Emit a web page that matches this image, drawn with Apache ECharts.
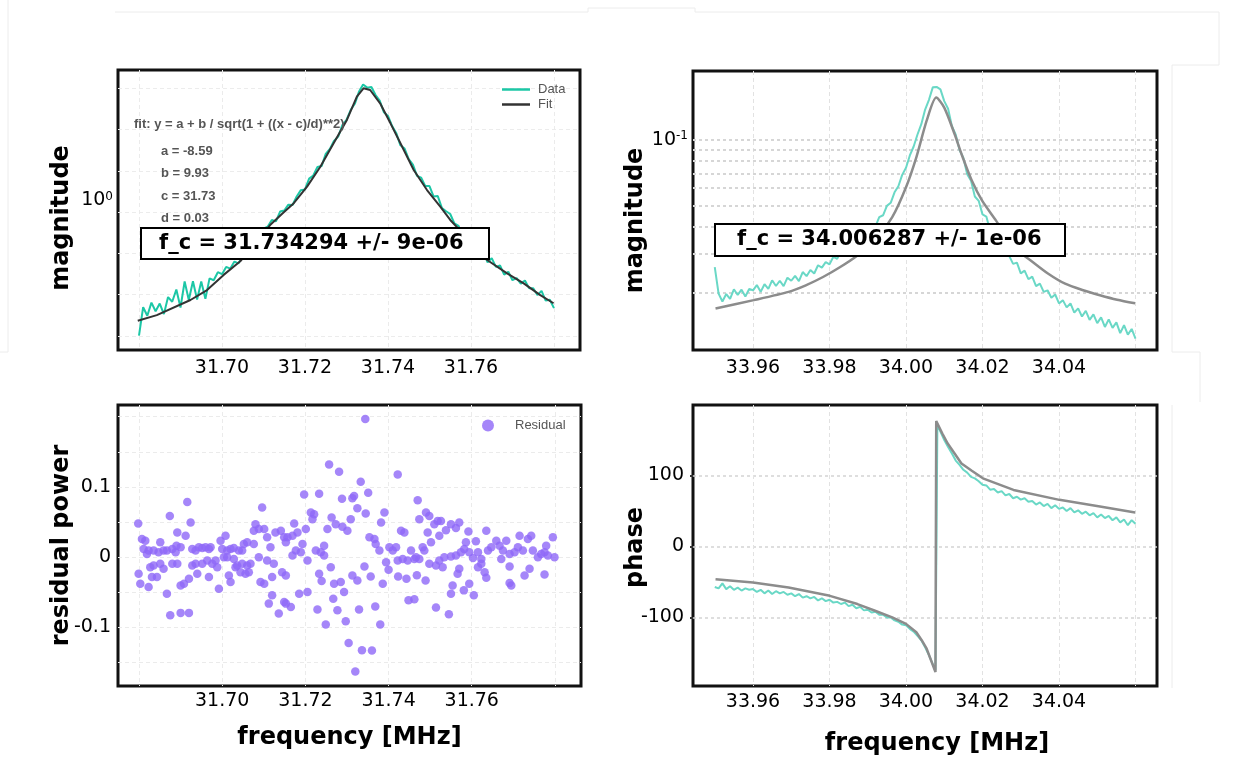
<!DOCTYPE html>
<html><head><meta charset="utf-8">
<script src="https://cdn.jsdelivr.net/npm/echarts@6/dist/echarts.min.js"></script>
<style>html,body{margin:0;padding:0;background:#fff}#c{width:1235px;height:766px}</style>
</head><body><div id="c"></div>
<script>
// ---------- tick values / labels ----------
const xTicksA = [31.68, 31.70, 31.72, 31.74, 31.76, 31.78];
const xLabelsA = [31.70, 31.72, 31.74, 31.76];
const xTicksB = [33.96, 33.98, 34.00, 34.02, 34.04, 34.06];
const xLabelsB = [33.96, 33.98, 34.00, 34.02, 34.04];
const resTicks = [-0.15, -0.1, -0.05, 0, 0.05, 0.1, 0.15, 0.2];
const resLabels = [-0.1, 0, 0.1];
const phaseTicks = [-100, 0, 100];
const magGrid2 = [0.02, 0.03, 0.04, 0.05, 0.06, 0.07, 0.08, 0.09, 0.1];

// ---------- panel 1 : magnitude around 31.73 MHz ----------
const dataFreq1 = [31.680,31.681,31.682,31.683,31.684,31.685,31.686,31.687,31.688,31.689,
31.690,31.691,31.692,31.693,31.694,31.695,31.696,31.697,31.698,31.699,
31.700,31.701,31.702,31.703,31.704,31.705,31.706,31.707,31.708,31.709,
31.710,31.711,31.712,31.713,31.714,31.715,31.716,31.717,31.718,31.719,
31.720,31.721,31.722,31.723,31.724,31.725,31.726,31.727,31.728,31.729,
31.730,31.731,31.732,31.733,31.734,31.735,31.736,31.737,31.738,31.739,
31.740,31.741,31.742,31.743,31.744,31.745,31.746,31.747,31.748,31.749,
31.750,31.751,31.752,31.753,31.754,31.755,31.756,31.757,31.758,31.759,
31.760,31.761,31.762,31.763,31.764,31.765,31.766,31.767,31.768,31.769,
31.770,31.771,31.772,31.773,31.774,31.775,31.776,31.777,31.778,31.779,31.780];
const dataMag1 = [0.410,0.494,0.467,0.509,0.481,0.506,0.472,0.528,0.512,0.555,
0.493,0.585,0.518,0.586,0.520,0.585,0.522,0.597,0.590,0.622,
0.614,0.644,0.637,0.667,0.659,0.697,0.713,0.723,0.769,0.780,
0.828,0.839,0.877,0.869,0.927,0.933,0.970,0.968,1.023,1.067,
1.072,1.151,1.175,1.242,1.250,1.355,1.400,1.476,1.518,1.637,
1.695,1.807,1.883,2.037,2.138,2.094,2.104,1.995,1.923,1.782,
1.738,1.626,1.552,1.433,1.403,1.309,1.262,1.172,1.159,1.096,
1.096,1.023,1.026,0.948,0.929,0.912,0.857,0.843,0.792,0.791,
0.762,0.719,0.718,0.710,0.664,0.682,0.644,0.650,0.612,0.624,
0.590,0.598,0.577,0.589,0.560,0.560,0.535,0.550,0.516,0.519,0.491];
const fitFreq1 = [31.6797,31.6843,31.6924,31.6964,31.7004,31.7044,31.708,31.7116,31.7145,31.7173,31.7205,31.7237,31.7269,31.7301,31.7325,31.7341,31.7357,31.7381,31.7406,31.743,31.7462,31.7494,31.7526,31.755,31.7595,31.7639,31.7687,31.7727,31.7767,31.7799];
const fitMag1 = [0.452,0.469,0.518,0.553,0.611,0.668,0.753,0.848,0.914,0.979,1.092,1.245,1.452,1.693,1.973,2.085,2.062,1.889,1.656,1.452,1.218,1.068,0.957,0.877,0.769,0.674,0.617,0.578,0.535,0.507];

// ---------- panel 2 : magnitude around 34.006 MHz ----------
const dataFreq2 = [33.950,33.951,33.952,33.953,33.954,33.955,33.956,33.957,33.958,33.959,
33.960,33.961,33.962,33.963,33.964,33.965,33.966,33.967,33.968,33.969,
33.970,33.971,33.972,33.973,33.974,33.975,33.976,33.977,33.978,33.979,
33.980,33.981,33.982,33.983,33.984,33.985,33.986,33.987,33.988,33.989,
33.990,33.991,33.992,33.993,33.994,33.995,33.996,33.997,33.998,33.999,
34.000,34.001,34.002,34.003,34.004,34.005,34.006,34.007,34.008,34.009,
34.010,34.011,34.012,34.013,34.014,34.015,34.016,34.017,34.018,34.019,
34.020,34.021,34.022,34.023,34.024,34.025,34.026,34.027,34.028,34.029,
34.030,34.031,34.032,34.033,34.034,34.035,34.036,34.037,34.038,34.039,
34.040,34.041,34.042,34.043,34.044,34.045,34.046,34.047,34.048,34.049,
34.050,34.051,34.052,34.053,34.054,34.055,34.056,34.057,34.058,34.059,34.060];
const dataMag2 = [0.02606,0.01972,0.01816,0.01963,0.01866,0.02065,0.01945,0.02056,0.01914,0.02070,
0.02042,0.02158,0.02009,0.02178,0.02075,0.02270,0.02138,0.02259,0.02133,0.02333,
0.02259,0.02377,0.02249,0.02477,0.02371,0.02529,0.02438,0.02661,0.02594,0.02748,
0.02685,0.02911,0.02844,0.03090,0.03027,0.03221,0.03162,0.03443,0.03436,0.03681,
0.03639,0.03990,0.03999,0.04416,0.04508,0.04977,0.05140,0.05741,0.06124,0.06902,
0.07447,0.08472,0.09311,0.1057,0.1178,0.1374,0.1524,0.1738,0.1746,0.1702,
0.1503,0.1387,0.1153,0.1054,0.08974,0.08260,0.06950,0.06486,0.05495,0.05248,
0.04550,0.04446,0.03828,0.03819,0.03357,0.03350,0.02938,0.02931,0.02698,0.02735,
0.02443,0.02512,0.02296,0.02360,0.02133,0.02193,0.02009,0.02042,0.01888,0.01954,
0.01778,0.01841,0.01706,0.01778,0.01614,0.01687,0.01549,0.01644,0.01496,0.01585,
0.01445,0.01535,0.01387,0.01503,0.01374,0.01455,0.01300,0.01413,0.01279,0.01358,0.01227];
const fitFreq2 = [33.9502,33.9602,33.9693,33.9738,33.9783,33.9828,33.9873,33.9919,33.9964,34.0000,34.0027,34.0054,34.0079,34.0100,34.0127,34.0145,34.0172,34.0199,34.0235,34.0281,34.0326,34.0371,34.0416,34.0461,34.0507,34.0552,34.0599];
const fitMag2 = [0.01687,0.01841,0.02009,0.02153,0.02350,0.02612,0.02951,0.03459,0.04416,0.06053,0.08299,0.1222,0.1560,0.1403,0.1062,0.0861,0.0650,0.0526,0.0427,0.0322,0.0280,0.0244,0.0219,0.0205,0.0194,0.0185,0.0178];

// ---------- panel 3 : residuals [frequency, residual power] ----------
const residualPoints = [
[31.6798,0.0477],[31.6807,0.0255],[31.6815,0.0231],[31.6811,0.0113],[31.6819,0.0042],[31.6823,0.0090],[31.6835,0.0090],[31.6851,0.0208],[31.6847,0.0066],[31.6859,0.0090],[31.6867,0.0090],[31.6874,0.0585],[31.6880,0.0113],[31.6888,0.0066],[31.6892,0.0350],[31.6890,0.0160],[31.6900,0.0137],[31.6912,0.0302],[31.6916,0.0783],[31.6924,0.0491],[31.6928,0.0113],[31.6936,0.0090],[31.6944,0.0137],[31.6952,0.0127],[31.6960,0.0137],[31.6968,0.0113],[31.6972,0.0137],[31.6996,0.0231],[31.7008,0.0302],[31.7000,0.0113],[31.7012,0.0090],[31.7020,0.0113],[31.7028,0.0127],[31.7040,0.0090],[31.7048,0.0090],[31.7052,0.0184],[31.7060,0.0208],[31.7076,0.0184],[31.7080,0.0467],[31.7076,0.0373],[31.7088,0.0397],[31.7096,0.0704],[31.7101,0.0397],[31.7108,0.0279],[31.7116,0.0137],[31.7128,0.0350],[31.7141,0.0373],[31.7149,0.0279],
[31.6799,-0.0241],[31.6803,-0.0382],[31.6823,-0.0430],[31.6827,-0.0146],[31.6835,-0.0123],[31.6831,-0.0288],[31.6843,-0.0288],[31.6851,-0.0099],[31.6859,-0.0170],[31.6867,-0.0524],[31.6880,-0.0099],[31.6892,-0.0099],[31.6900,-0.0406],[31.6908,-0.0382],[31.6920,-0.0312],[31.6928,-0.0123],[31.6936,-0.0099],[31.6940,-0.0241],[31.6952,-0.0099],[31.6964,-0.0052],[31.6968,-0.0288],[31.6976,-0.0099],[31.6984,-0.0052],[31.6988,-0.0146],[31.6992,-0.0453],[31.7004,-0.0005],[31.7012,-0.0005],[31.7016,-0.0265],[31.7020,-0.0359],[31.7028,-0.0028],[31.7032,-0.0146],[31.7036,-0.0123],[31.7044,-0.0217],[31.7048,-0.0099],[31.7056,-0.0241],[31.7060,-0.0123],[31.7064,-0.0217],[31.7068,-0.0099],[31.7088,-0.0005],[31.7092,-0.0359],[31.7101,-0.0382],[31.7108,-0.0052],[31.7112,-0.0666],[31.7120,-0.0547],[31.7124,-0.0099],[31.7120,-0.0288],[31.7136,-0.0808],[31.7144,-0.0217],[31.7149,-0.0642],
[31.6875,-0.0831],[31.6900,-0.0798],[31.6920,-0.0798],
[31.7157,0.0279],[31.7153,0.0208],[31.7169,0.0302],[31.7173,0.0477],[31.7181,0.0350],[31.7193,0.0184],[31.7177,0.0090],[31.7189,0.0066],[31.7169,0.0019],[31.7197,0.0892],[31.7205,-0.0052],[31.7201,0.0397],[31.7213,0.0633],[31.7221,0.0609],[31.7217,0.0538],[31.7225,0.0090],[31.7233,0.0902],[31.7237,0.0066],[31.7245,0.0160],[31.7245,0.0019],[31.7257,0.1317],[31.7263,0.0562],[31.7253,0.0397],[31.7273,0.0467],[31.7281,0.1214],[31.7288,0.0831],[31.7289,0.0429],[31.7301,0.0373],[31.7309,0.0538],[31.7313,0.0836],[31.7317,0.0868],[31.7325,0.0694],[31.7333,0.1072],[31.7345,0.0619],[31.7351,0.0916],[31.7344,0.1969],[31.7354,0.0279],[31.7366,0.0255],[31.7369,0.0184],[31.7382,0.0491],[31.7390,0.0633],[31.7378,0.0090],[31.7402,0.0137],[31.7410,0.0090],[31.7418,0.0137],[31.7422,0.1176],[31.7430,0.0373],[31.7438,0.0350],[31.7454,0.0090],[31.7462,-0.0028],[31.7470,0.0807],[31.7474,0.0538],[31.7482,0.0137],[31.7490,0.0633],[31.7498,0.0585],[31.7494,0.0350],[31.7510,0.0467],[31.7518,0.0514],[31.7522,0.0302],[31.7502,0.0208],[31.7486,0.0090],[31.7422,-0.0052],[31.7434,-0.0028],[31.7446,-0.0052],[31.7466,-0.0005],[31.7474,-0.0028],[31.7498,-0.0099],[31.7514,-0.0123],[31.7522,-0.0052],
[31.7153,-0.0265],[31.7153,-0.0666],[31.7165,-0.0713],[31.7185,-0.0524],[31.7205,-0.0500],[31.7229,-0.0751],[31.7233,-0.0241],[31.7239,-0.0345],[31.7249,-0.0963],[31.7261,-0.0146],[31.7267,-0.0595],[31.7269,-0.0382],[31.7277,-0.0760],[31.7285,-0.0359],[31.7293,-0.0500],[31.7297,-0.0916],[31.7304,-0.1228],[31.7313,-0.0265],[31.7325,-0.0336],[31.7329,-0.0751],[31.7336,-0.1331],[31.7342,-0.0137],[31.7320,-0.1634],[31.7357,-0.0279],[31.7360,-0.1336],[31.7368,-0.0708],[31.7380,-0.0963],[31.7386,-0.0382],[31.7394,-0.0075],[31.7400,-0.0184],[31.7423,-0.0279],[31.7443,-0.0312],[31.7448,-0.0618],[31.7462,-0.0604],[31.7468,-0.0260],[31.7489,-0.0336],[31.7514,-0.0722],
[31.7526,0.0514],[31.7538,0.0382],[31.7550,0.0467],[31.7570,0.0491],[31.7562,0.0411],[31.7592,0.0363],[31.7635,0.0373],[31.7586,0.0208],[31.7610,0.0222],[31.7534,-0.0005],[31.7550,0.0005],[31.7562,0.0019],[31.7574,0.0066],[31.7582,0.0113],[31.7594,0.0066],[31.7603,-0.0014],[31.7615,0.0066],[31.7623,-0.0028],[31.7639,0.0090],[31.7647,0.0137],[31.7659,0.0231],[31.7667,0.0160],[31.7675,0.0090],[31.7671,-0.0028],[31.7683,0.0231],[31.7691,0.0042],[31.7703,0.0066],[31.7715,0.0302],[31.7711,0.0137],[31.7723,0.0090],[31.7735,0.0255],[31.7743,0.0302],[31.7747,0.0090],[31.7759,-0.0005],[31.7767,0.0042],[31.7775,0.0066],[31.7779,0.0160],[31.7795,0.0279],[31.7799,-0.0005],[31.7783,0.0019],
[31.7530,-0.0146],[31.7554,-0.0406],[31.7550,-0.0524],[31.7570,-0.0170],[31.7566,-0.0241],[31.7581,-0.0477],[31.7594,-0.0382],[31.7605,-0.0547],[31.7615,-0.0146],[31.7631,-0.0217],[31.7635,-0.0297],[31.7623,-0.0099],[31.7691,-0.0137],[31.7691,-0.0373],[31.7695,-0.0406],[31.7727,-0.0265],[31.7739,-0.0170],[31.7775,-0.0250],[31.7545,-0.0817]
];

// ---------- panel 4 : phase around 34.006 MHz ----------
const dataFreq4 = [33.950,33.951,33.952,33.953,33.954,33.955,33.956,33.957,33.958,33.959,
33.960,33.961,33.962,33.963,33.964,33.965,33.966,33.967,33.968,33.969,
33.970,33.971,33.972,33.973,33.974,33.975,33.976,33.977,33.978,33.979,
33.980,33.981,33.982,33.983,33.984,33.985,33.986,33.987,33.988,33.989,
33.990,33.991,33.992,33.993,33.994,33.995,33.996,33.997,33.998,33.999,
34.000,34.001,34.002,34.003,34.004,34.005,34.006,34.007,
34.0077,34.0082,
34.009,34.010,34.011,34.012,34.013,34.014,34.015,34.016,34.017,34.018,34.019,
34.020,34.021,34.022,34.023,34.024,34.025,34.026,34.027,34.028,34.029,
34.030,34.031,34.032,34.033,34.034,34.035,34.036,34.037,34.038,34.039,
34.040,34.041,34.042,34.043,34.044,34.045,34.046,34.047,34.048,34.049,
34.050,34.051,34.052,34.053,34.054,34.055,34.056,34.057,34.058,34.059,34.060];
const dataPhase4 = [-57,-59,-52,-60,-56,-61,-58,-62,-59,-61,
-60,-64,-61,-66,-62,-67,-63,-66,-64,-68,
-66,-70,-67,-72,-70,-73,-71,-76,-73,-77,
-75,-79,-78,-81,-79,-84,-82,-87,-85,-90,
-89,-93,-92,-96,-96,-100,-100,-104,-106,-110,
-111,-116,-120,-126,-132,-142,-153,-166,
-174,172,
162,150,140,131,121,115,108,104,98,96,92,
87,86,80,81,76,78,72,74,68,70,
66,68,63,64,59,62,57,60,54,58,
53,55,50,54,48,51,46,49,44,47,
41,45,40,43,37,41,34,38,30,37,32];
const fitFreq4 = [33.9502,33.9600,33.9693,33.9801,33.9873,33.9919,33.9964,34.0000,34.0027,34.0041,34.0054,34.0077,34.0079,34.0095,34.0109,34.0145,34.0172,34.0201,34.0281,34.0401,34.0507,34.0599];
const fitPhase4 = [-46.2,-50.8,-57.8,-69.5,-81.1,-90.5,-99.8,-109,-120.7,-132,-144,-176.7,176.6,159,145,117,106.7,96,79.7,65.7,56.4,48];

// ---------- rendering ----------
const FONT = 'DejaVu Sans';
const pairs = (xs, ys) => xs.map((x, i) => [x, ys[i]]);
function logLabel(v) {
  const l = Math.log10(v), r = Math.round(l);
  if (Math.abs(l - r) > 1e-6) return '';
  return '{b|10}{s|' + r + '}';
}
const logRich = {
  b: { fontSize: 19, fontFamily: FONT, color: '#000' },
  s: { fontSize: 12, fontFamily: FONT, color: '#000', verticalAlign: 'top', lineHeight: 12 }
};
const lblStyle = { fontSize: 19, fontFamily: FONT, color: '#000' };
const nameStyle = { fontSize: 24, fontWeight: 'bold', fontFamily: FONT, color: '#000' };

function xAxis(gi, min, max, ticks, labels, margin, gridColor, name, nameGap, namePad) {
  return {
    gridIndex: gi, type: 'value', min: min, max: max,
    axisLine: { show: false },
    axisTick: { show: false, customValues: ticks },
    axisLabel: Object.assign({ customValues: labels, margin: margin, formatter: v => v.toFixed(2) }, lblStyle),
    splitLine: { show: true, lineStyle: { color: gridColor, type: [4, 3], width: 1 } },
    name: name || '', nameLocation: 'middle', nameGap: nameGap || 0, nameMoveOverlap: false,
    nameTextStyle: Object.assign({ padding: namePad || 0 }, nameStyle)
  };
}

const grids = [
  { left: 118, top: 70, width: 462, height: 280 },
  { left: 693, top: 71, width: 464, height: 279 },
  { left: 118, top: 405, width: 463, height: 281 },
  { left: 693, top: 405, width: 464, height: 281 }
].map(g => Object.assign(g, { show: true, borderColor: '#111', borderWidth: 3, backgroundColor: '#fff', containLabel: false, outerBoundsMode: 'none' }));

const annFont = 'bold 13px "Liberation Sans"';
const option = {
  animation: false,
  backgroundColor: '#fff',
  grid: grids,
  xAxis: [
    xAxis(0, 31.67494, 31.78627, xTicksA, xLabelsA, 9, '#ebebeb'),
    xAxis(1, 33.94431, 34.06562, xTicksB, xLabelsB, 9, '#e2e2e2'),
    xAxis(2, 31.67494, 31.78627, xTicksA, xLabelsA, 6, '#ebebeb', 'frequency [MHz]', 40),
    xAxis(3, 33.94431, 34.06562, xTicksB, xLabelsB, 7, '#e2e2e2', 'frequency [MHz]', 46, [0, 0, 0, 24])
  ],
  yAxis: [
    { gridIndex: 0, type: 'log', min: 0.3728, max: 2.352,
      axisLine: { show: false }, axisTick: { show: false }, splitLine: { show: false },
      axisLabel: { formatter: logLabel, rich: logRich, margin: 5, showMinLabel: false, showMaxLabel: false },
      name: 'magnitude', nameLocation: 'middle', nameGap: 44, nameMoveOverlap: false,
      nameTextStyle: Object.assign({ padding: [0, 16, 0, 0] }, nameStyle) },
    { gridIndex: 1, type: 'log', min: 0.01088, max: 0.2065,
      axisLine: { show: false }, axisTick: { show: false }, splitLine: { show: false },
      axisLabel: { formatter: logLabel, rich: logRich, margin: 5, showMinLabel: false, showMaxLabel: false },
      name: 'magnitude', nameLocation: 'middle', nameGap: 45, nameMoveOverlap: false,
      nameTextStyle: Object.assign({ padding: [0, 20, 0, 0] }, nameStyle) },
    { gridIndex: 2, type: 'value', min: -0.1841, max: 0.2167,
      axisLine: { show: false },
      axisTick: { show: false, customValues: resTicks },
      axisLabel: Object.assign({ customValues: resLabels, margin: 7, formatter: v => (Math.abs(v) < 1e-9 ? '0' : v.toFixed(1)) }, lblStyle),
      splitLine: { show: true, lineStyle: { color: '#ebebeb', type: [4, 3] } },
      name: 'residual power', nameLocation: 'middle', nameGap: 44, nameMoveOverlap: false, nameTextStyle: nameStyle },
    { gridIndex: 3, type: 'value', min: -196.5, max: 199.3,
      axisLine: { show: false },
      axisTick: { show: true, length: 3, inside: false, customValues: phaseTicks, lineStyle: { color: '#333', width: 2 } },
      axisLabel: Object.assign({ customValues: phaseTicks, margin: 9 }, lblStyle),
      splitLine: { show: true, lineStyle: { color: '#d4d4d4', type: [3, 3], width: 1.5 } },
      name: 'phase', nameLocation: 'middle', nameGap: 45, nameMoveOverlap: false,
      nameTextStyle: Object.assign({ padding: [0, 4, 0, 0] }, nameStyle) },
    { gridIndex: 0, type: 'value', min: -0.34, max: 6.44, position: 'left',
      axisLine: { show: false }, axisLabel: { show: false },
      axisTick: { show: false, customValues: [0, 1, 2, 3, 4, 5, 6] },
      splitLine: { show: true, lineStyle: { color: '#ececec', type: [4, 3] } } }
  ],
  legend: [
    { data: [{ name: 'Data', icon: 'rect' }, { name: 'Fit', icon: 'rect' }], orient: 'vertical', left: 497, top: 78,
      itemWidth: 28, itemHeight: 2.5, itemGap: 2,
      textStyle: { fontSize: 13, color: '#555', fontFamily: 'Liberation Sans', padding: [0, 0, 0, 3] }, selectedMode: false },
    { data: ['Residual'], orient: 'vertical', left: 477, top: 414, itemWidth: 12, itemHeight: 12, icon: 'circle',
      textStyle: { fontSize: 13, color: '#555', fontFamily: 'Liberation Sans', padding: [0, 0, 0, 16] }, selectedMode: false }
  ],
  series: [
    { name: 'Data', type: 'line', xAxisIndex: 0, yAxisIndex: 0, symbol: 'none',
      data: pairs(dataFreq1, dataMag1), lineStyle: { color: '#1cc7a6', width: 2 }, itemStyle: { color: '#1cc7a6' }, z: 3 },
    { name: 'Fit', type: 'line', xAxisIndex: 0, yAxisIndex: 0, symbol: 'none',
      data: pairs(fitFreq1, fitMag1), lineStyle: { color: '#333', width: 2 }, itemStyle: { color: '#333' }, z: 4 },
    { name: 'Data 34 MHz', type: 'line', xAxisIndex: 1, yAxisIndex: 1, symbol: 'none',
      data: pairs(dataFreq2, dataMag2), lineStyle: { color: '#6ad8c6', width: 2 }, z: 3 },
    { name: 'Fit 34 MHz', type: 'line', xAxisIndex: 1, yAxisIndex: 1, symbol: 'none', smooth: 0.25,
      data: pairs(fitFreq2, fitMag2), lineStyle: { color: '#8c8c8c', width: 2.5 }, z: 4,
      markLine: { silent: true, symbol: ['none', 'none'], label: { show: false }, animation: false, z: 1,
        lineStyle: { color: '#d6d6d6', type: [3, 3], width: 2 }, data: magGrid2.map(v => ({ yAxis: v })) } },
    { name: 'Residual', type: 'scatter', xAxisIndex: 2, yAxisIndex: 2, symbolSize: 8.5,
      data: residualPoints, itemStyle: { color: '#8f68f7' }, z: 3 },
    { name: 'Phase data', type: 'line', xAxisIndex: 3, yAxisIndex: 3, symbol: 'none',
      data: pairs(dataFreq4, dataPhase4), lineStyle: { color: '#6ad8c6', width: 2 }, z: 3 },
    { name: 'Phase fit', type: 'line', xAxisIndex: 3, yAxisIndex: 3, symbol: 'none',
      data: pairs(fitFreq4, fitPhase4), lineStyle: { color: '#8c8c8c', width: 2.5 }, z: 4 }
  ],
  graphic: [
    // faint panel outlines of the composite figure
    { type: 'polyline', shape: { points: [[8, 0], [8, 352], [0, 352]] }, style: { stroke: '#ececec', lineWidth: 1, fill: null }, silent: true },
    { type: 'polyline', shape: { points: [[115, 12], [588, 12], [588, 8], [695, 8], [695, 12], [1219, 12], [1219, 65], [1172, 65], [1172, 352], [1200, 352], [1200, 402]] }, style: { stroke: '#ececec', lineWidth: 1, fill: null }, silent: true },
    { type: 'line', shape: { x1: 1172, y1: 405, x2: 1172, y2: 688 }, style: { stroke: '#ececec', lineWidth: 1 }, silent: true },
    // fit annotation
    { type: 'text', x: 134, y: 124, z: 50, silent: true, style: { text: 'fit: y = a + b / sqrt(1 + ((x - c)/d)**2)', font: annFont, fill: '#555', verticalAlign: 'middle' } },
    { type: 'text', x: 161, y: 151, z: 50, silent: true, style: { text: 'a = -8.59', font: annFont, fill: '#555', verticalAlign: 'middle' } },
    { type: 'text', x: 161, y: 173, z: 50, silent: true, style: { text: 'b = 9.93', font: annFont, fill: '#555', verticalAlign: 'middle' } },
    { type: 'text', x: 161, y: 196, z: 50, silent: true, style: { text: 'c = 31.73', font: annFont, fill: '#555', verticalAlign: 'middle' } },
    { type: 'text', x: 161, y: 218, z: 50, silent: true, style: { text: 'd = 0.03', font: annFont, fill: '#555', verticalAlign: 'middle' } },
    // centre-frequency boxes
    { type: 'rect', z: 100, shape: { x: 141, y: 228, width: 348, height: 31 }, style: { fill: '#fff', stroke: '#000', lineWidth: 2 } },
    { type: 'text', z: 101, x: 159, y: 244, style: { text: 'f_c = 31.734294 +/- 9e-06', font: 'bold 21px "DejaVu Sans"', fill: '#000', verticalAlign: 'middle' } },
    { type: 'rect', z: 100, shape: { x: 715, y: 224, width: 350, height: 32 }, style: { fill: '#fff', stroke: '#000', lineWidth: 2 } },
    { type: 'text', z: 101, x: 737, y: 240, style: { text: 'f_c = 34.006287 +/- 1e-06', font: 'bold 21px "DejaVu Sans"', fill: '#000', verticalAlign: 'middle' } }
  ]
};
const chart = echarts.init(document.getElementById('c'), null, { renderer: 'canvas', width: 1235, height: 766 });
chart.setOption(option);
</script>
</body></html>
